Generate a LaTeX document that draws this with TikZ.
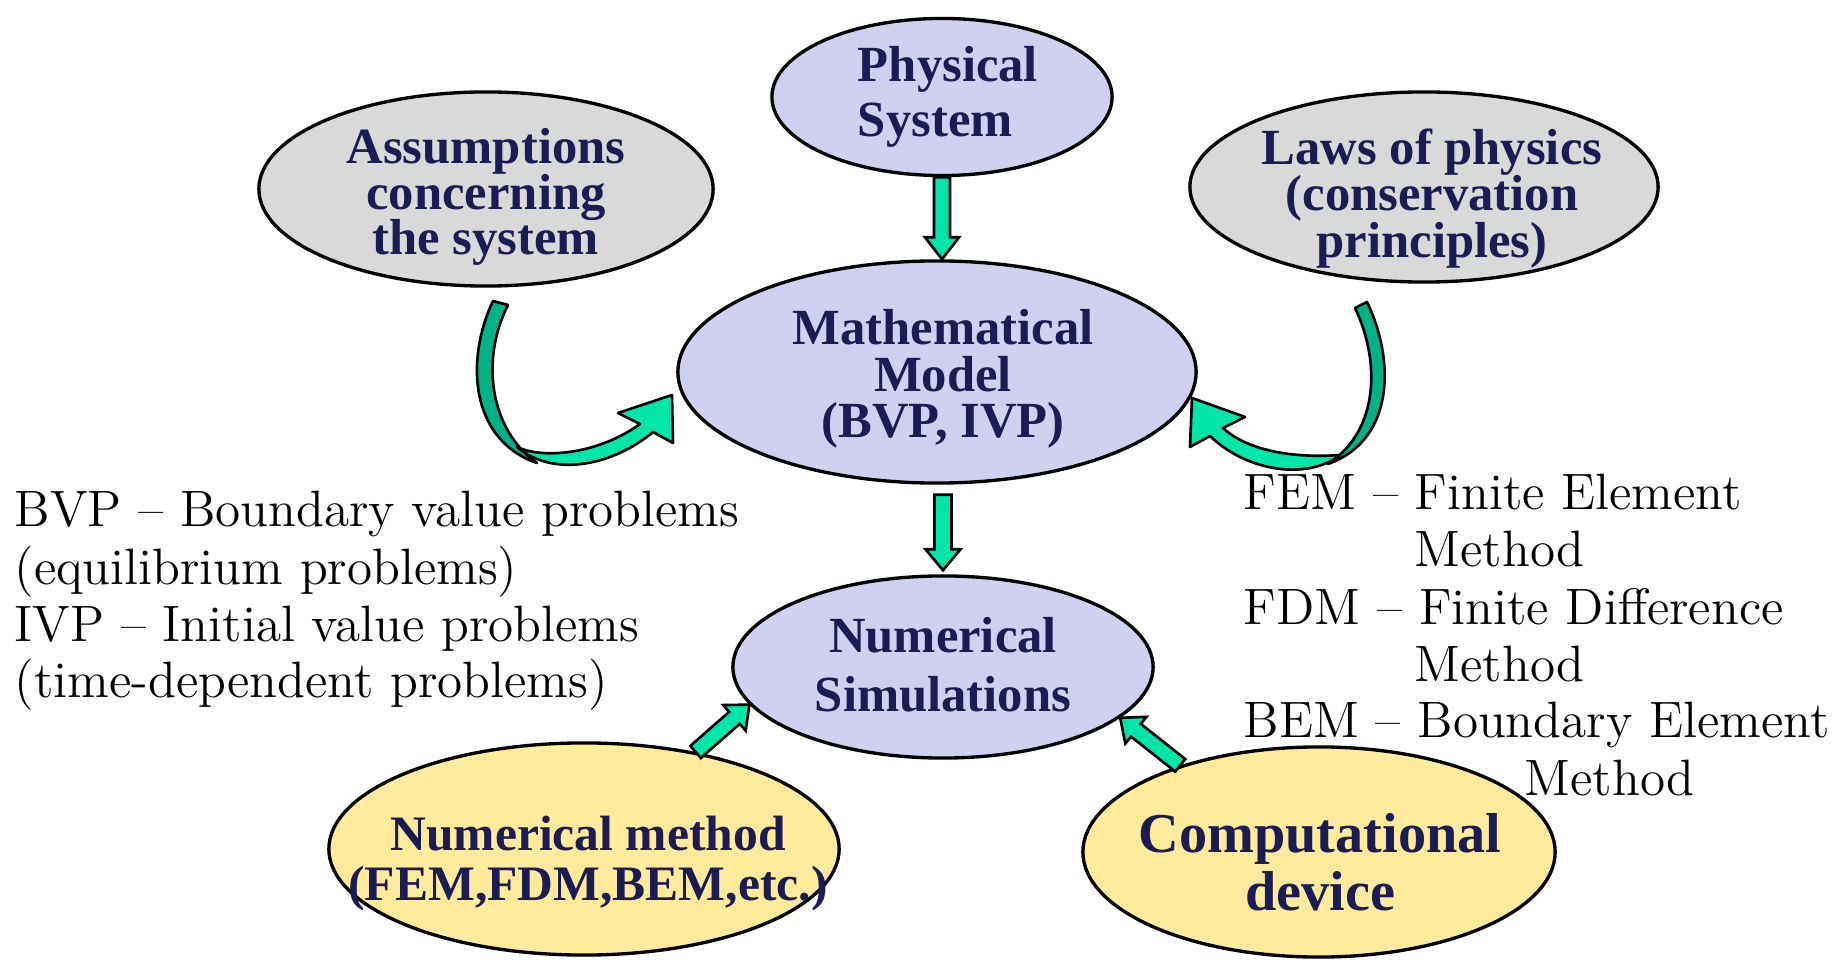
\documentclass[tikz,border=0pt]{standalone}
\usepackage{fontspec}
\usetikzlibrary{shapes.geometric,calc}

\newfontfamily\capfam{Liberation Serif}

\definecolor{lav}{RGB}{208,208,240}
\definecolor{gry}{RGB}{217,217,217}
\definecolor{ylw}{RGB}{255,235,155}
\definecolor{navy}{RGB}{28,28,84}
\definecolor{mint}{RGB}{0,230,168}
\definecolor{mintdark}{RGB}{0,178,134}

% bold serif face for the ellipse captions
\newcommand\capfont[2]{\capfam\bfseries\fontsize{#1}{#2}\selectfont\lineskiplimit=-20pt\lineskip=0pt\relax}

\tikzset{
  oval/.style={ellipse, draw=black, line width=0.95pt, inner sep=0pt},
  caption/.style={text=navy, align=center, inner sep=0pt},
  sidetext/.style={anchor=base west, inner sep=0pt, font=\fontsize{14.55}{16.2}\selectfont},
  blockarrow/.style={fill=mint, draw=black, line width=0.75pt, line join=miter},
  ribbon/.style={draw=black, line width=0.75pt, line join=round},
}

% straight block arrow: tail, tip, half shaft width, half head width, head length
\newcommand\blockarrow[5]{%
  \coordinate (ba-t) at (#1);
  \coordinate (ba-p) at (#2);
  \coordinate (ba-h) at ($(ba-p)!#5!(ba-t)$);
  \filldraw[blockarrow]
    ($(ba-t)!#3!90:(ba-p)$) -- ($(ba-h)!#3!90:(ba-p)$) -- ($(ba-h)!#4!90:(ba-p)$)
    -- (ba-p) -- ($(ba-h)!#4!-90:(ba-p)$) -- ($(ba-h)!#3!-90:(ba-p)$)
    -- ($(ba-t)!#3!-90:(ba-p)$) -- cycle;
}

\begin{document}
\begin{tikzpicture}[x=0.01cm, y=-0.01cm]
\useasboundingbox (0,0) rectangle (1848,967);

% ellipses
\node[oval, fill=lav, minimum width=3.40cm, minimum height=1.57cm] (phys)    at (942,97)   {};
\node[oval, fill=gry, minimum width=4.54cm, minimum height=1.94cm] (assump)  at (486,189)  {};
\node[oval, fill=gry, minimum width=4.68cm, minimum height=1.90cm] (laws)    at (1424,187) {};
\node[oval, fill=lav, minimum width=5.18cm, minimum height=2.22cm] (math)    at (937,372)  {};
\node[oval, fill=lav, minimum width=4.20cm, minimum height=1.82cm] (numsim)  at (943,667)  {};
\node[oval, fill=ylw, minimum width=5.10cm, minimum height=2.12cm] (nummeth) at (584,849)  {};
\node[oval, fill=ylw, minimum width=4.72cm, minimum height=2.10cm] (comp)    at (1319,852) {};

% captions
\node[caption, align=left, font=\capfont{14.4}{15.6}] (phys-t) at (948,97) {Physical\\System};
\node[caption, font=\capfont{14.4}{12.9}] (assump-t) at (486,197) {Assumptions\\concerning\\the system};
\node[caption, font=\capfont{14.4}{13.2}] (laws-t) at (1432,198.5) {Laws of physics\\(conservation\\principles)};
\node[caption, font=\capfont{14.4}{13.2}] (math-t) at (943,379) {Mathematical\\Model\\(BVP, IVP)};
\node[caption, font=\capfont{14.4}{16.8}] (numsim-t) at (943,665) {Numerical\\Simulations};
\node[caption, font=\capfont{14.1}{14.2}] (nummeth-t) at (588,864) {Numerical method\\(FEM,FDM,BEM,etc.)};
\node[caption, font=\capfont{16}{16.5}] (comp-t) at (1320,862) {Computational\\device};

% straight block arrows
\blockarrow{phys.south}{phys.south |- math.north}{0.08cm}{0.17cm}{0.22cm}
\blockarrow{$(numsim.north |- math.south)+(0,10)$}{$(numsim.north)+(0,-4)$}{0.085cm}{0.175cm}{0.21cm}
\blockarrow{nummeth.41.6}{numsim.191.1}{0.08cm}{0.17cm}{0.20cm}
\blockarrow{comp.148.6}{numsim.344.4}{0.08cm}{0.17cm}{0.20cm}

% curved arrow from the assumptions into the model
\filldraw[ribbon, fill=mintdark]
  (493,301) .. controls (465,360) and (470,440) .. (537,463)
  .. controls (490,430) and (480,360) .. (508,305) -- cycle;
\filldraw[ribbon, fill=mint]
  (517,447) .. controls (545,460) and (600,453) .. (640,424)
  -- (618,413) -- (672,395) -- (673,443) -- (653,432)
  .. controls (615,464) and (555,479) .. (517,447) -- cycle;

% curved arrow from the laws of physics into the model
\filldraw[ribbon, fill=mintdark]
  (1367,302) .. controls (1395,360) and (1395,440) .. (1328,464)
  .. controls (1380,430) and (1380,360) .. (1355,308) -- cycle;
\filldraw[ribbon, fill=mint]
  (1340,455) .. controls (1300,458) and (1250,453) .. (1223,428)
  -- (1245,417) -- (1192,398) -- (1190,447) -- (1210,436)
  .. controls (1250,474) and (1310,479) .. (1340,455) -- cycle;

% abbreviations on the left
\node[sidetext] (bvp)  at (14,527) {BVP – Boundary value problems};
\node[sidetext] (bvp2) at (14,584) {(equilibrium problems)};
\node[sidetext] (ivp)  at (14,641) {IVP – Initial value problems};
\node[sidetext] (ivp2) at (14,698) {(time-dependent problems)};

% methods on the right
\node[sidetext] (fem)  at (1243,510) {FEM – Finite Element};
\node[sidetext] (fem2) at (1414,567) {Method};
\node[sidetext] (fdm)  at (1243,624) {FDM – Finite Difference};
\node[sidetext] (fdm2) at (1414,681) {Method};
\node[sidetext] (bem)  at (1243,738) {BEM – Boundary Element};
\node[sidetext] (bem2) at (1524,795) {Method};
\end{tikzpicture}
\end{document}
